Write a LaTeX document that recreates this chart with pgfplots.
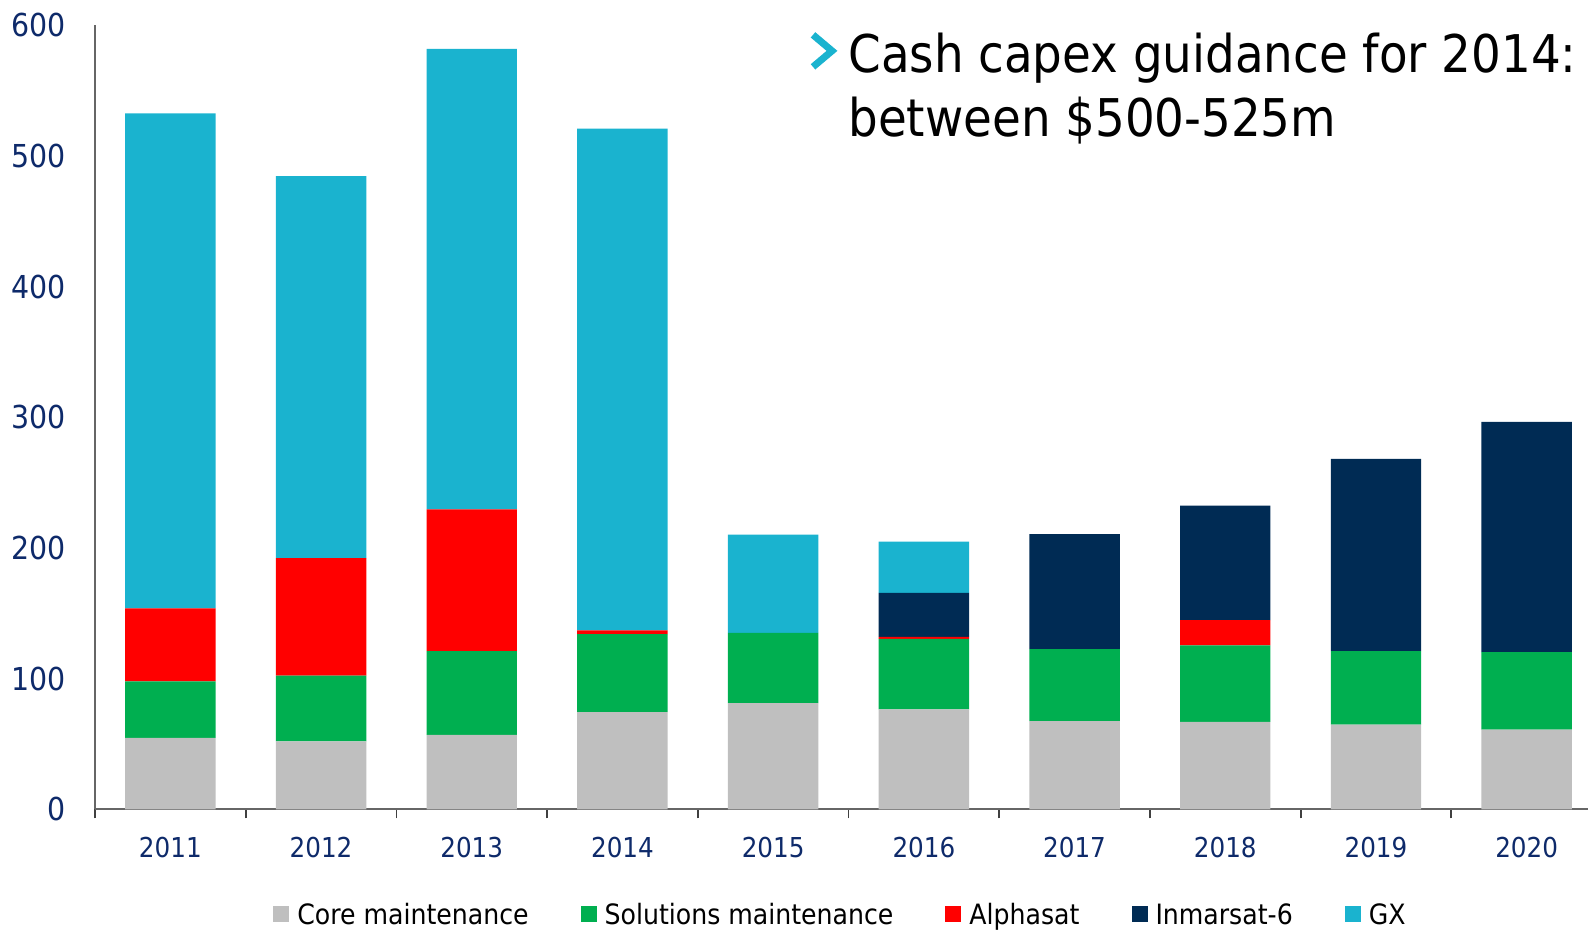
\documentclass[border=0pt]{standalone}
\usepackage{fontspec}
\setmainfont{DejaVu Sans Condensed}
\usepackage{pgfplots}
\pgfplotsset{compat=1.18}

\definecolor{coregrey}{HTML}{BFBFBF}
\definecolor{solgreen}{HTML}{00AF50}
\definecolor{alphared}{HTML}{FF0000}
\definecolor{inmnavy}{HTML}{002B54}
\definecolor{gxcyan}{HTML}{1AB3CF}
\definecolor{ticknavy}{HTML}{0E2A6A}

% x = 0..9 for 2011..2020
\pgfplotstableread{
x core sol alpha inm gx
0 54.6 43.3 55.9 0    378.8
1 52.0 50.3 90.0 0    292.2
2 57.0 64.0 108.5 0   352.5
3 74.3 59.7 3.0  0    384.0
4 81.2 53.8 0    0    75.2
5 76.4 54.1 1.5  33.6 39.2
6 67.4 55.1 0    88.0 0
7 66.9 58.5 19.4 87.5 0
8 64.8 56.2 0    147.2 0
9 61.0 59.2 0    176.2 0
}\capex

\begin{document}
\begin{tikzpicture}
\begin{axis}[
    name=ax,
    scale only axis,
    width=746.5pt, height=392pt,
    ybar stacked,
    bar width=0.6,
    xmin=-0.5, xmax=9.407,
    ymin=0, ymax=600,
    axis x line*=bottom,
    axis y line*=left,
    axis line style={black!60, line width=0.9pt},
    xtick={0,...,9},
    xticklabels={2011,2012,2013,2014,2015,2016,2017,2018,2019,2020},
    minor xtick={-0.5,0.5,...,9.5},
    major tick length=0pt,
    minor tick length=4.5pt,
    tick align=outside,
    minor tick style={black!75, line width=0.9pt},
    ytick={0,100,...,600},
    /pgf/number format/assume math mode=true,
    yticklabel style={font=\fontsize{15.8}{18}\selectfont, text=ticknavy,
        anchor=east, inner sep=0pt, xshift=-14.5pt},
    xticklabel style={font=\fontsize{13.7}{16}\selectfont, text=ticknavy,
        anchor=north, inner sep=0pt, yshift=-13.8pt},
    legend columns=5,
    legend style={draw=none, at={(0.5,-0.1352)}, anchor=center,
        font=\fontsize{14}{16}\selectfont,
        /tikz/every odd column/.append style={column sep=2pt},
        /tikz/every even column/.append style={column sep=24pt}},
    legend image code/.code={\fill[#1] (0pt,-3.5pt) rectangle (8pt,4.5pt);},
]
\addplot[fill=coregrey, draw=none] table[x=x, y=core] {\capex};
\addplot[fill=solgreen, draw=none] table[x=x, y=sol] {\capex};
\addplot[fill=alphared, draw=none] table[x=x, y=alpha] {\capex};
\addplot[fill=inmnavy, draw=none] table[x=x, y=inm] {\capex};
\addplot[fill=gxcyan, draw=none] table[x=x, y=gx] {\capex};
\legend{Core maintenance, Solutions maintenance, Alphasat, Inmarsat-6, GX}
\end{axis}

% guidance callout
\draw[gxcyan, line width=3.5pt, line cap=butt, line join=miter]
    ([xshift=359pt, yshift=387.2pt]ax.south west) --
    ([xshift=368.5pt, yshift=379.2pt]ax.south west) --
    ([xshift=359pt, yshift=371.2pt]ax.south west);
\node[anchor=base west, inner sep=0pt, font=\fontsize{26}{31}\selectfont]
    at ([xshift=376.5pt, yshift=368.2pt]ax.south west) {Cash capex guidance for 2014:};
\node[anchor=base west, inner sep=0pt, font=\fontsize{26}{31}\selectfont]
    at ([xshift=376.5pt, yshift=336.2pt]ax.south west) {between \$500-525m};

\pgfresetboundingbox
\path[use as bounding box] ([xshift=-47.5pt, yshift=-60.35pt]ax.south west)
    rectangle ([yshift=12.65pt]ax.north east);
\end{tikzpicture}
\end{document}
